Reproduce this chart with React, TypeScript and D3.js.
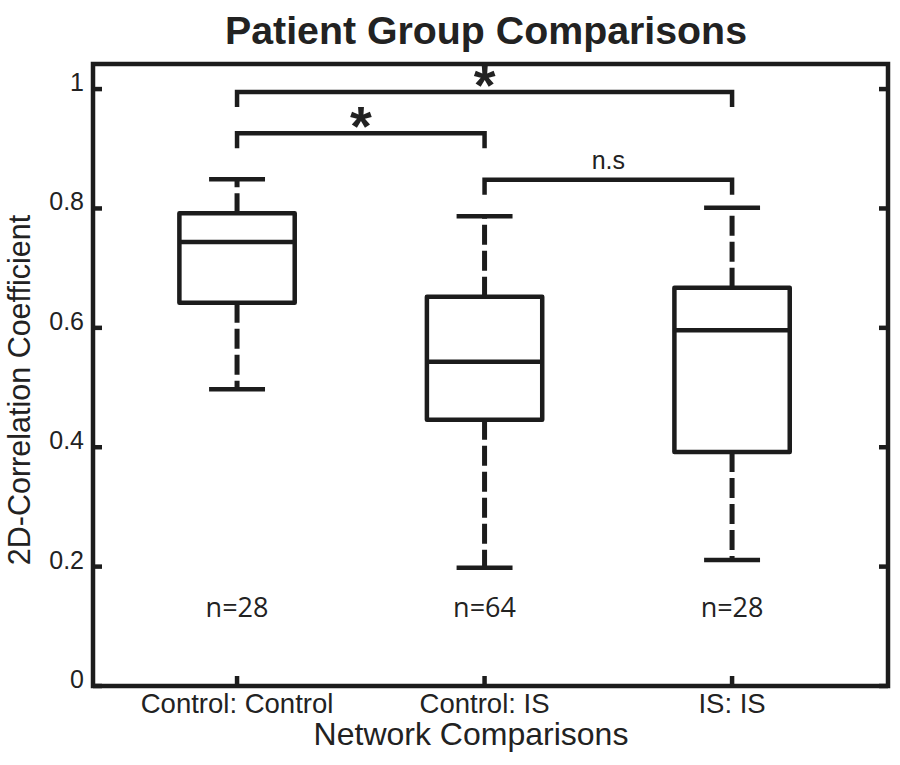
import React from "react";
import * as d3 from "d3";

const categories = ["Control: Control", "Control: IS", "IS: IS"];
const counts = [28, 64, 28];
const whiskerLow = [0.497, 0.198, 0.211];
const q1 = [0.642, 0.446, 0.392];
const median = [0.744, 0.543, 0.596];
const q3 = [0.792, 0.652, 0.667];
const whiskerHigh = [0.849, 0.787, 0.801];
const yTicks = [0, 0.2, 0.4, 0.6, 0.8, 1];
const yTickLabels = ["0", "0.2", "0.4", "0.6", "0.8", "1"];
const compFrom = [1, 1, 2];
const compTo = [3, 2, 3];
const compLevel = [0.995, 0.926, 0.848];
const compLabel = ["*", "*", "n.s"];

const title = "Patient Group Comparisons";
const xTitle = "Network Comparisons";
const yTitle = "2D-Correlation Coefficient";

export default function App() {
  const W = 900, H = 765;
  const L = 93, R = 888, T = 64, B = 686;
  const x = d3.scaleLinear().domain([0.418, 3.63]).range([L, R]);
  const y = d3.scaleLinear().domain([0, 1.042]).range([B, T]);
  const ink = "#1c1c1c";
  const txt = "#222";
  const boxHalf = 0.233;
  const capHalf = 0.113;
  const drop = 0.025;
  const font = "'Liberation Sans', Arial, sans-serif";

  return (
    <svg width={W} height={H} style={{ position: "absolute", left: 0, top: 0, background: "#fff" }}>
      <rect x={0} y={0} width={W} height={H} fill="#fff" />
      {/* title */}
      <text x={486} y={44} textAnchor="middle" fontFamily={font} fontWeight="bold" fontSize={38} fill={txt} textLength={522} lengthAdjust="spacingAndGlyphs">{title}</text>

      {/* boxes */}
      {categories.map((c, i) => {
        const cx = x(i + 1);
        const x0 = x(i + 1 - boxHalf), x1 = x(i + 1 + boxHalf);
        const c0 = x(i + 1 - capHalf), c1 = x(i + 1 + capHalf);
        return (
          <g key={c}>
            <line x1={cx} x2={cx} y1={y(q3[i])} y2={y(whiskerHigh[i])} stroke={ink} strokeWidth={5} strokeDasharray="20,6" />
            <line x1={cx} x2={cx} y1={y(q1[i])} y2={y(whiskerLow[i])} stroke={ink} strokeWidth={5} strokeDasharray="20,6" />
            <line x1={c0} x2={c1} y1={y(whiskerHigh[i])} y2={y(whiskerHigh[i])} stroke={ink} strokeWidth={4.5} />
            <line x1={c0} x2={c1} y1={y(whiskerLow[i])} y2={y(whiskerLow[i])} stroke={ink} strokeWidth={4.5} />
            <rect x={x0} y={y(q3[i])} width={x1 - x0} height={y(q1[i]) - y(q3[i])} fill="none" stroke={ink} strokeWidth={4.5} strokeLinejoin="round" />
            <line x1={x0} x2={x1} y1={y(median[i])} y2={y(median[i])} stroke={ink} strokeWidth={4.5} />
            <text x={cx} y={617} textAnchor="middle" fontFamily="'Open Sans', sans-serif" fontSize={27} fill={txt}>{`n=${counts[i]}`}</text>
          </g>
        );
      })}

      {/* significance brackets */}
      {compFrom.map((f, i) => {
        const xa = x(f), xb = x(compTo[i]);
        const yl = y(compLevel[i]), yd = y(compLevel[i] - drop);
        const isStar = compLabel[i] === "*";
        return (
          <g key={i}>
            <path d={`M${xa},${yd}V${yl}H${xb}V${yd}`} fill="none" stroke={ink} strokeWidth={4.5} />
            {isStar ? (
              <text x={(xa + xb) / 2} y={yl + 12} textAnchor="middle" fontFamily={font} fontWeight="bold" fontSize={56} fill={txt}>*</text>
            ) : (
              <text x={(xa + xb) / 2} y={yl - 11} textAnchor="middle" fontFamily={font} fontSize={25} fill={txt}>{compLabel[i]}</text>
            )}
          </g>
        );
      })}

      {/* axes frame */}
      <rect x={L} y={T} width={R - L} height={B - T} fill="none" stroke={ink} strokeWidth={4.5} />
      {yTicks.map((t, i) => (
        <g key={t}>
          <line x1={L} x2={L + 9} y1={y(t)} y2={y(t)} stroke={ink} strokeWidth={4.5} />
          <line x1={R} x2={R - 9} y1={y(t)} y2={y(t)} stroke={ink} strokeWidth={4.5} />
          <text x={84} y={y(t) + 2} textAnchor="end" fontFamily={font} fontSize={25} fill={txt}>{yTickLabels[i]}</text>
        </g>
      ))}
      {categories.map((c, i) => (
        <g key={c}>
          <line x1={x(i + 1)} x2={x(i + 1)} y1={B} y2={B - 10} stroke={ink} strokeWidth={4.5} />
          <text x={x(i + 1)} y={713} textAnchor="middle" fontFamily={font} fontSize={27.5} fill={txt}>{c}</text>
        </g>
      ))}
      <text x={471} y={745} textAnchor="middle" fontFamily={font} fontSize={32} fill={txt}>{xTitle}</text>
      <text transform={`translate(30,390) rotate(-90)`} textAnchor="middle" fontFamily={font} fontSize={30.5} fill={txt}>{yTitle}</text>
    </svg>
  );
}
